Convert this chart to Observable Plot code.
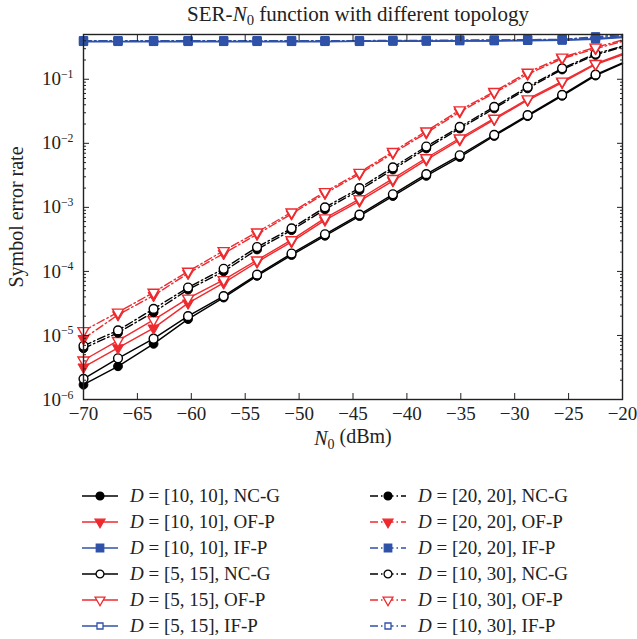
<!DOCTYPE html>
<html><head><meta charset="utf-8">
<script src="https://cdn.jsdelivr.net/npm/d3@7"></script>
<script src="https://cdn.jsdelivr.net/npm/@observablehq/plot@0.6"></script>
<style>
body{margin:0;background:#fff;font-family:"Liberation Serif","DejaVu Serif",serif;color:#222;}
#wrap{width:637px;height:639px;position:relative;overflow:hidden;}
#title{position:absolute;left:83px;width:550px;top:2px;text-align:center;font-size:21px;line-height:24px;}
#chart{position:absolute;top:28px;left:0;}
#chart svg text{font-family:"Liberation Serif","DejaVu Serif",serif;font-size:19px;fill:#222;}
#chart g[aria-label="x-axis label"] text, #chart g[aria-label="y-axis label"] text{font-size:20px;}
.lrow{position:absolute;height:26px;display:flex;align-items:center;font-size:19px;white-space:nowrap;}
.lrow svg{margin-right:10px;}
sub{font-size:0.7em;vertical-align:-0.3em;line-height:0;}
</style></head>
<body><div id="wrap">
<div id="title">SER-<i>N</i><sub>0</sub> function with different topology</div>
<div id="chart"></div>
<div id="legend"></div>
</div>
<script>
// ---- data ----
const N0 = [-70, -66.8, -63.5, -60.3, -57.0, -53.9, -50.7, -47.6, -44.4, -41.3, -38.2, -35.1, -31.9, -28.8, -25.6, -22.5, -20];
const ncg_10_10 = [1.7e-6, 3.3e-6, 7.4e-6, 1.8e-5, 3.9e-5, 8.5e-5, 1.8e-4, 3.6e-4, 7.3e-4, 1.5e-3, 3.1e-3, 6.1e-3, 1.3e-2, 2.65e-2, 5.5e-2, 1.14e-1, 1.75e-1];
const ofp_10_10 = [3.2e-6, 6.4e-6, 1.3e-5, 3.2e-5, 6.6e-5, 1.4e-4, 2.9e-4, 6.3e-4, 1.25e-3, 2.6e-3, 5.5e-3, 1.13e-2, 2.35e-2, 4.7e-2, 8.9e-2, 1.7e-1, 2.4e-1];
const ifp_10_10 = [0.39, 0.39, 0.39, 0.39, 0.39, 0.39, 0.39, 0.39, 0.39, 0.395, 0.395, 0.40, 0.40, 0.405, 0.41, 0.43, 0.46];
const ncg_5_15 = [2.1e-6, 4.4e-6, 8.9e-6, 2.0e-5, 4.1e-5, 8.9e-5, 1.9e-4, 3.8e-4, 7.7e-4, 1.6e-3, 3.3e-3, 6.5e-3, 1.35e-2, 2.75e-2, 5.7e-2, 1.18e-1, 1.8e-1];
const ofp_5_15 = [4.1e-6, 8.3e-6, 1.75e-5, 3.8e-5, 7.4e-5, 1.5e-4, 3.1e-4, 6.8e-4, 1.35e-3, 2.8e-3, 5.9e-3, 1.2e-2, 2.45e-2, 4.9e-2, 9.3e-2, 1.75e-1, 2.5e-1];
const ifp_5_15 = [0.385, 0.385, 0.385, 0.385, 0.385, 0.385, 0.385, 0.385, 0.39, 0.39, 0.39, 0.395, 0.395, 0.40, 0.405, 0.42, 0.45];
const ncg_20_20 = [6.3e-6, 1.1e-5, 2.3e-5, 5.2e-5, 1.0e-4, 2.2e-4, 4.4e-4, 9.3e-4, 1.85e-3, 3.9e-3, 8.3e-3, 1.7e-2, 3.5e-2, 7.2e-2, 1.42e-1, 2.4e-1, 3.2e-1];
const ofp_20_20 = [8.9e-6, 2.1e-5, 4.2e-5, 9.3e-5, 1.9e-4, 3.8e-4, 7.9e-4, 1.65e-3, 3.3e-3, 7.0e-3, 1.45e-2, 3.1e-2, 6.1e-2, 1.2e-1, 2.1e-1, 3.0e-1, 3.9e-1];
const ifp_20_20 = [0.40, 0.40, 0.40, 0.40, 0.40, 0.40, 0.40, 0.40, 0.40, 0.405, 0.405, 0.41, 0.41, 0.415, 0.42, 0.46, 0.50];
const ncg_10_30 = [6.9e-6, 1.2e-5, 2.6e-5, 5.6e-5, 1.1e-4, 2.4e-4, 4.7e-4, 1.0e-3, 2.0e-3, 4.2e-3, 8.9e-3, 1.8e-2, 3.7e-2, 7.6e-2, 1.48e-1, 2.5e-1, 3.3e-1];
const ofp_10_30 = [1.18e-5, 2.3e-5, 4.7e-5, 1.0e-4, 2.1e-4, 4.1e-4, 8.4e-4, 1.75e-3, 3.5e-3, 7.4e-3, 1.55e-2, 3.3e-2, 6.4e-2, 1.28e-1, 2.2e-1, 3.15e-1, 4.1e-1];
const ifp_10_30 = [0.395, 0.395, 0.395, 0.395, 0.395, 0.395, 0.395, 0.395, 0.395, 0.40, 0.40, 0.40, 0.405, 0.41, 0.415, 0.44, 0.48];
const xTicks = [-70, -65, -60, -55, -50, -45, -40, -35, -30, -25, -20];
const yTicks = [1e-6, 1e-5, 1e-4, 1e-3, 1e-2, 1e-1];
const seriesLabels = ["[10, 10], NC-G", "[10, 10], OF-P", "[10, 10], IF-P", "[5, 15], NC-G", "[5, 15], OF-P", "[5, 15], IF-P",
  "[20, 20], NC-G", "[20, 20], OF-P", "[20, 20], IF-P", "[10, 30], NC-G", "[10, 30], OF-P", "[10, 30], IF-P"];
const seriesValues = [ncg_10_10, ofp_10_10, ifp_10_10, ncg_5_15, ofp_5_15, ifp_5_15, ncg_20_20, ofp_20_20, ifp_20_20, ncg_10_30, ofp_10_30, ifp_10_30];

// ---- styles ----
const RED = "#ee2a2e", BLUE = "#2f52a8", BLACK = "#000";
const DD = "8,3,1.5,3";
const styleOf = (i) => {
  const kind = i % 3, group = Math.floor(i / 3);
  const color = [BLACK, RED, BLUE][kind];
  const symbol = ["circle", "triangle", "square"][kind];
  const filled = group === 0 || group === 2;
  const dash = group >= 2 ? DD : null;
  const r = [4.4, 4.1, kind === 2 && !filled ? 3.8 : 4.7][kind];
  return {color, symbol, filled, dash, r};
};

const series = seriesValues.map((vals, i) => ({
  label: seriesLabels[i],
  style: styleOf(i),
  rows: N0.map((x, j) => ({x, y: vals[j], marker: j < N0.length - 1}))
}));

const yMinor = [];
for (const d of [1e-6, 1e-5, 1e-4, 1e-3, 1e-2, 1e-1]) for (let k = 2; k <= 9; k++) if (d * k <= 0.5) yMinor.push(d * k);

const lineMarks = [];
const dotMarks = [];
const lineOrder = [0,3,1,4,2,5,6,9,7,10,8,11];
const dotOrder = [5,11,2,8,0,3,1,4,6,9,7,10];
for (const i of lineOrder) {
  const s = series[i], st = s.style;
  lineMarks.push(Plot.line(s.rows, {x: "x", y: "y", stroke: st.color, strokeWidth: 1.4, strokeDasharray: st.dash}));
}
for (const i of dotOrder) {
  const s = series[i], st = s.style;
  dotMarks.push(Plot.dot(s.rows.filter(d => d.marker), {
    x: "x", y: "y", symbol: st.symbol, r: st.r,
    fill: st.filled ? st.color : "#fff", stroke: st.color, strokeWidth: st.filled ? 1 : 1.4,
    rotate: st.symbol === "triangle" ? 180 : 0
  }));
}

const fmtX = d => (d < 0 ? "\u2212" + (-d) : String(d));
const chart = Plot.plot({
  width: 637, height: 436,
  marginLeft: 83, marginRight: 15, marginTop: 6, marginBottom: 65,
  x: {domain: [-70, -20], axis: null},
  y: {type: "log", domain: [1e-6, 0.5], axis: null},
  marks: [
    ...lineMarks,
    ...dotMarks,
    Plot.frame({stroke: "#222", strokeWidth: 1.4}),
    Plot.axisX(xTicks, {anchor: "bottom", tickSize: -6, tickPadding: 13, tickFormat: fmtX, label: "N0 (dBm)", labelAnchor: "center", labelOffset: 45, labelArrow: "none"}),
    Plot.axisX(xTicks, {anchor: "top", tickSize: -6, tickFormat: () => "", label: null}),
    Plot.axisY(yTicks, {anchor: "left", tickSize: -6, tickPadding: 16, tickFormat: d => String(Math.round(Math.log10(d))), label: "Symbol error rate", labelAnchor: "center", labelOffset: 75, labelArrow: "none"}),
    Plot.axisY(yTicks, {anchor: "right", tickSize: -6, tickFormat: () => "", label: null}),
    Plot.axisY(yMinor, {anchor: "left", tickSize: -3, tickFormat: () => "", label: null}),
    Plot.axisY(yMinor, {anchor: "right", tickSize: -3, tickFormat: () => "", label: null})
  ]
});
document.getElementById("chart").appendChild(chart);

// superscript exponents on y tick labels
d3.select(chart).selectAll('g[aria-label="y-axis tick label"] text').each(function() {
  const t = this.textContent; if (!t) return;
  const e = +t;
  const s = d3.select(this); s.text(null);
  s.append("tspan").text("10");
  s.append("tspan").attr("dy", "-0.6em").attr("font-size", "0.62em").text("\u2212" + Math.abs(e));
});
// italic N with subscript 0 in x label
d3.select(chart).selectAll('g[aria-label="x-axis label"] text').each(function() {
  const s = d3.select(this); s.text(null);
  s.append("tspan").attr("font-style", "italic").text("N");
  s.append("tspan").attr("dy", "0.3em").attr("font-size", "0.7em").text("0");
  s.append("tspan").attr("dy", "-0.3em").text(" (dBm)");
});

// legend
const legend = document.getElementById("legend");
series.forEach((s, i) => {
  const col = i < 6 ? 0 : 1, row = i % 6;
  const st = s.style;
  const div = document.createElement("div");
  div.className = "lrow";
  div.style.left = (col === 0 ? 82 : 370) + "px";
  div.style.top = (483 + row * 26) + "px";
  const sw = document.createElementNS("http://www.w3.org/2000/svg", "svg");
  sw.setAttribute("width", 38); sw.setAttribute("height", 20);
  const g = d3.select(sw);
  g.append("line").attr("x1", 0).attr("x2", 36).attr("y1", 10).attr("y2", 10)
    .attr("stroke", st.color).attr("stroke-width", 1.3).attr("stroke-dasharray", st.dash);
  const sym = {circle: d3.symbolCircle, triangle: d3.symbolTriangle, square: d3.symbolSquare}[st.symbol];
  g.append("path").attr("d", d3.symbol(sym, Math.PI * st.r * st.r * 0.8)())
    .attr("transform", `translate(18,10) rotate(${st.symbol === "triangle" ? 180 : 0})`)
    .attr("fill", st.filled ? st.color : "#fff").attr("stroke", st.color).attr("stroke-width", 1.3);
  div.appendChild(sw);
  const lab = document.createElement("span");
  lab.innerHTML = "<i>D</i> = " + s.label;
  div.appendChild(lab);
  legend.appendChild(div);
});
</script>
</body></html>
